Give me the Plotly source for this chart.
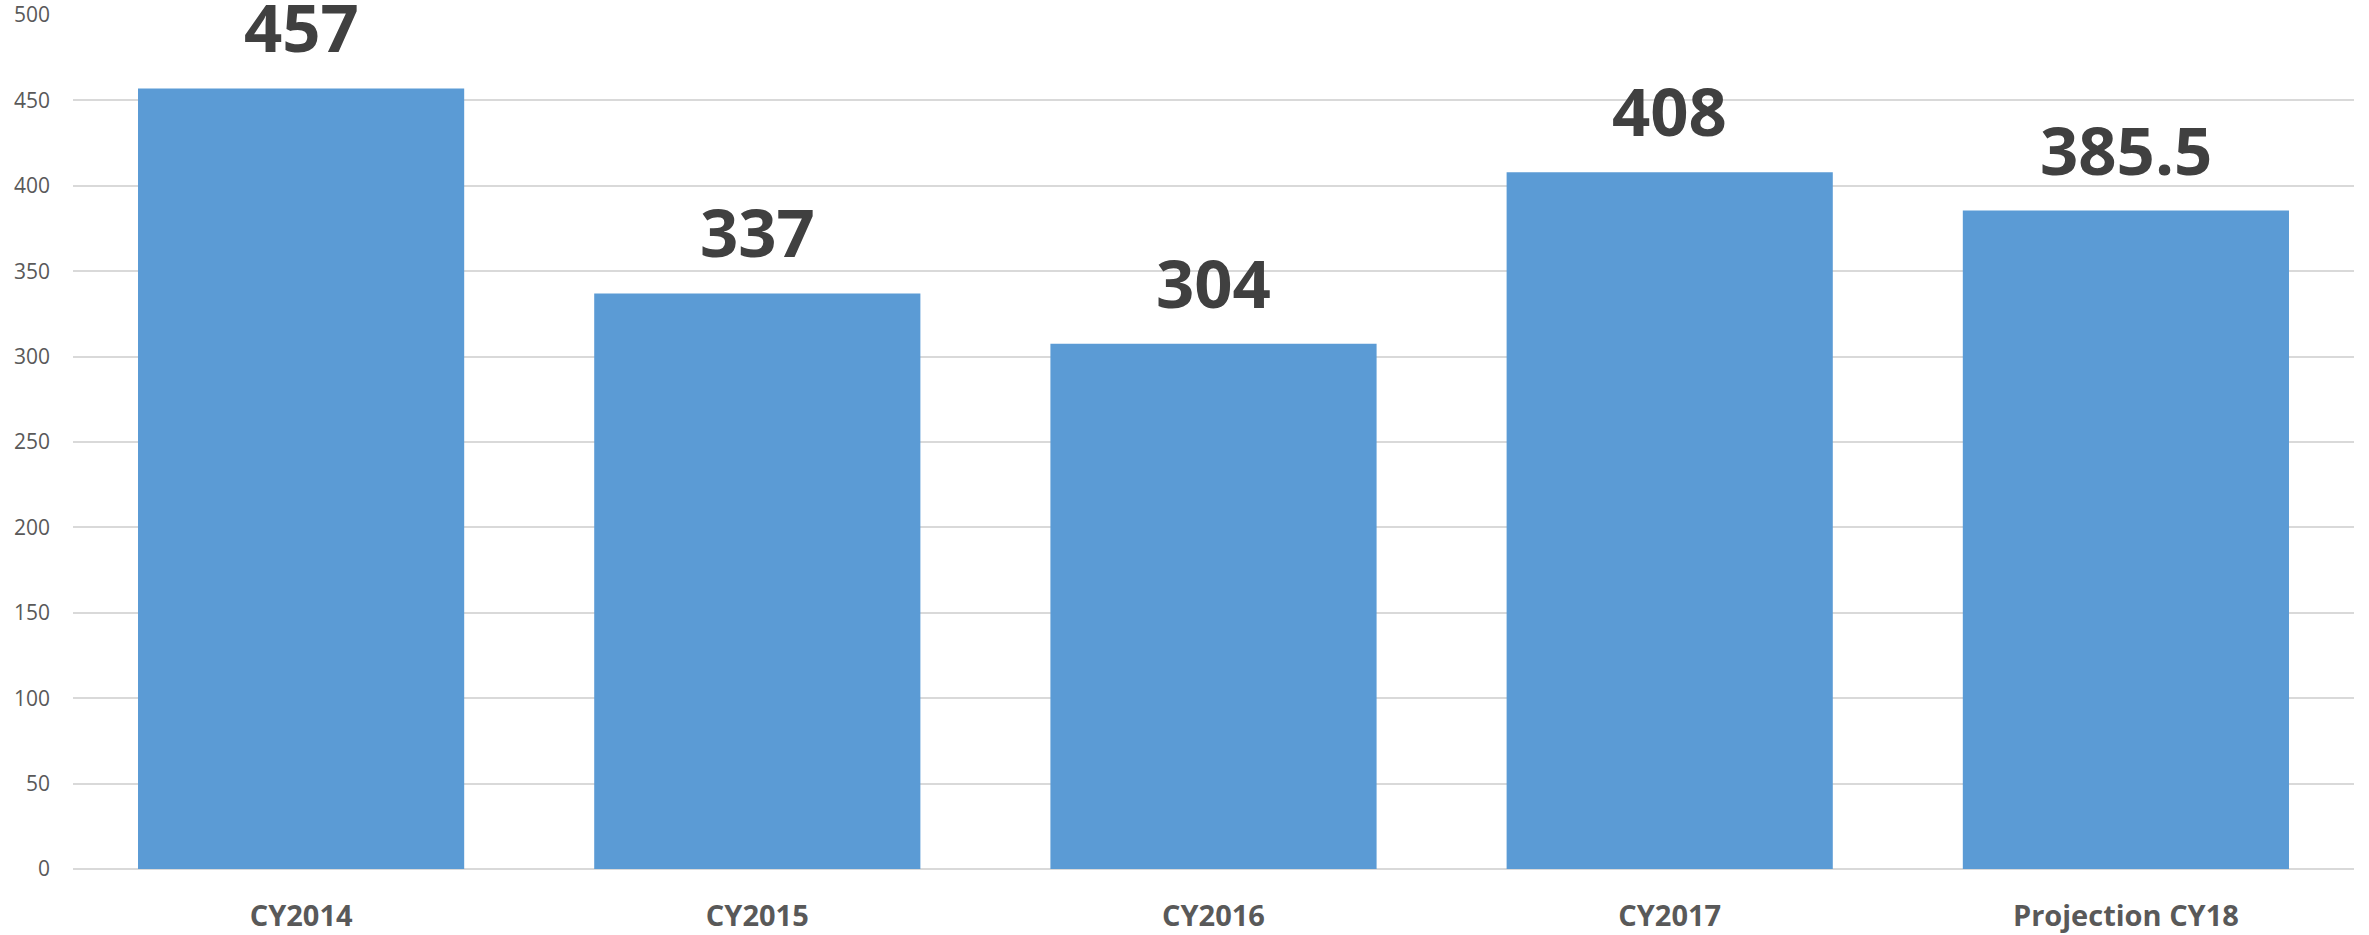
import plotly.graph_objects as go

# Chart data
categories = ["CY2014", "CY2015", "CY2016", "CY2017", "Projection CY18"]
bar_heights = [457, 337, 307.5, 408, 385.5]
bar_labels = ["457", "337", "304", "408", "385.5"]

y_ticks = [0, 50, 100, 150, 200, 250, 300, 350, 400, 450, 500]

fig = go.Figure()
fig.add_trace(
    go.Bar(
        x=categories,
        y=bar_heights,
        marker=dict(color="#5B9BD5", line=dict(width=0)),
        hoverinfo="x+y",
    )
)

# Data labels above bars
for cat, h, lab in zip(categories, bar_heights, bar_labels):
    fig.add_annotation(
        x=cat,
        y=h,
        text=f"<b>{lab}</b>",
        showarrow=False,
        yanchor="bottom",
        yshift=14,
        font=dict(family="Open Sans", size=67, color="#404040"),
    )

fig.update_xaxes(
    showgrid=False,
    showline=False,
    automargin=False,
    tickfont=dict(family="Open Sans", size=29, color="#595959", weight="bold"),
    ticks="",
    ticklabelstandoff=27,
)
fig.update_yaxes(
    range=[0, 500],
    tickvals=y_ticks,
    automargin=False,
    ticklabeloverflow="allow",
    showgrid=True,
    gridcolor="#D9D9D9",
    gridwidth=1.5,
    zeroline=True,
    zerolinecolor="#D9D9D9",
    zerolinewidth=2,
    tickfont=dict(family="Open Sans", size=21, color="#595959"),
    ticklabelstandoff=22,
)

fig.update_layout(
    width=2369,
    height=935,
    margin=dict(l=73, r=15, t=15, b=66),
    bargap=0.285,
    plot_bgcolor="white",
    paper_bgcolor="white",
    showlegend=False,
)

# drop the default page margin so the figure fills the window
fig.write_html(
    "out.html",
    config={"displayModeBar": False},
    post_script="document.body.style.margin='0';",
)
